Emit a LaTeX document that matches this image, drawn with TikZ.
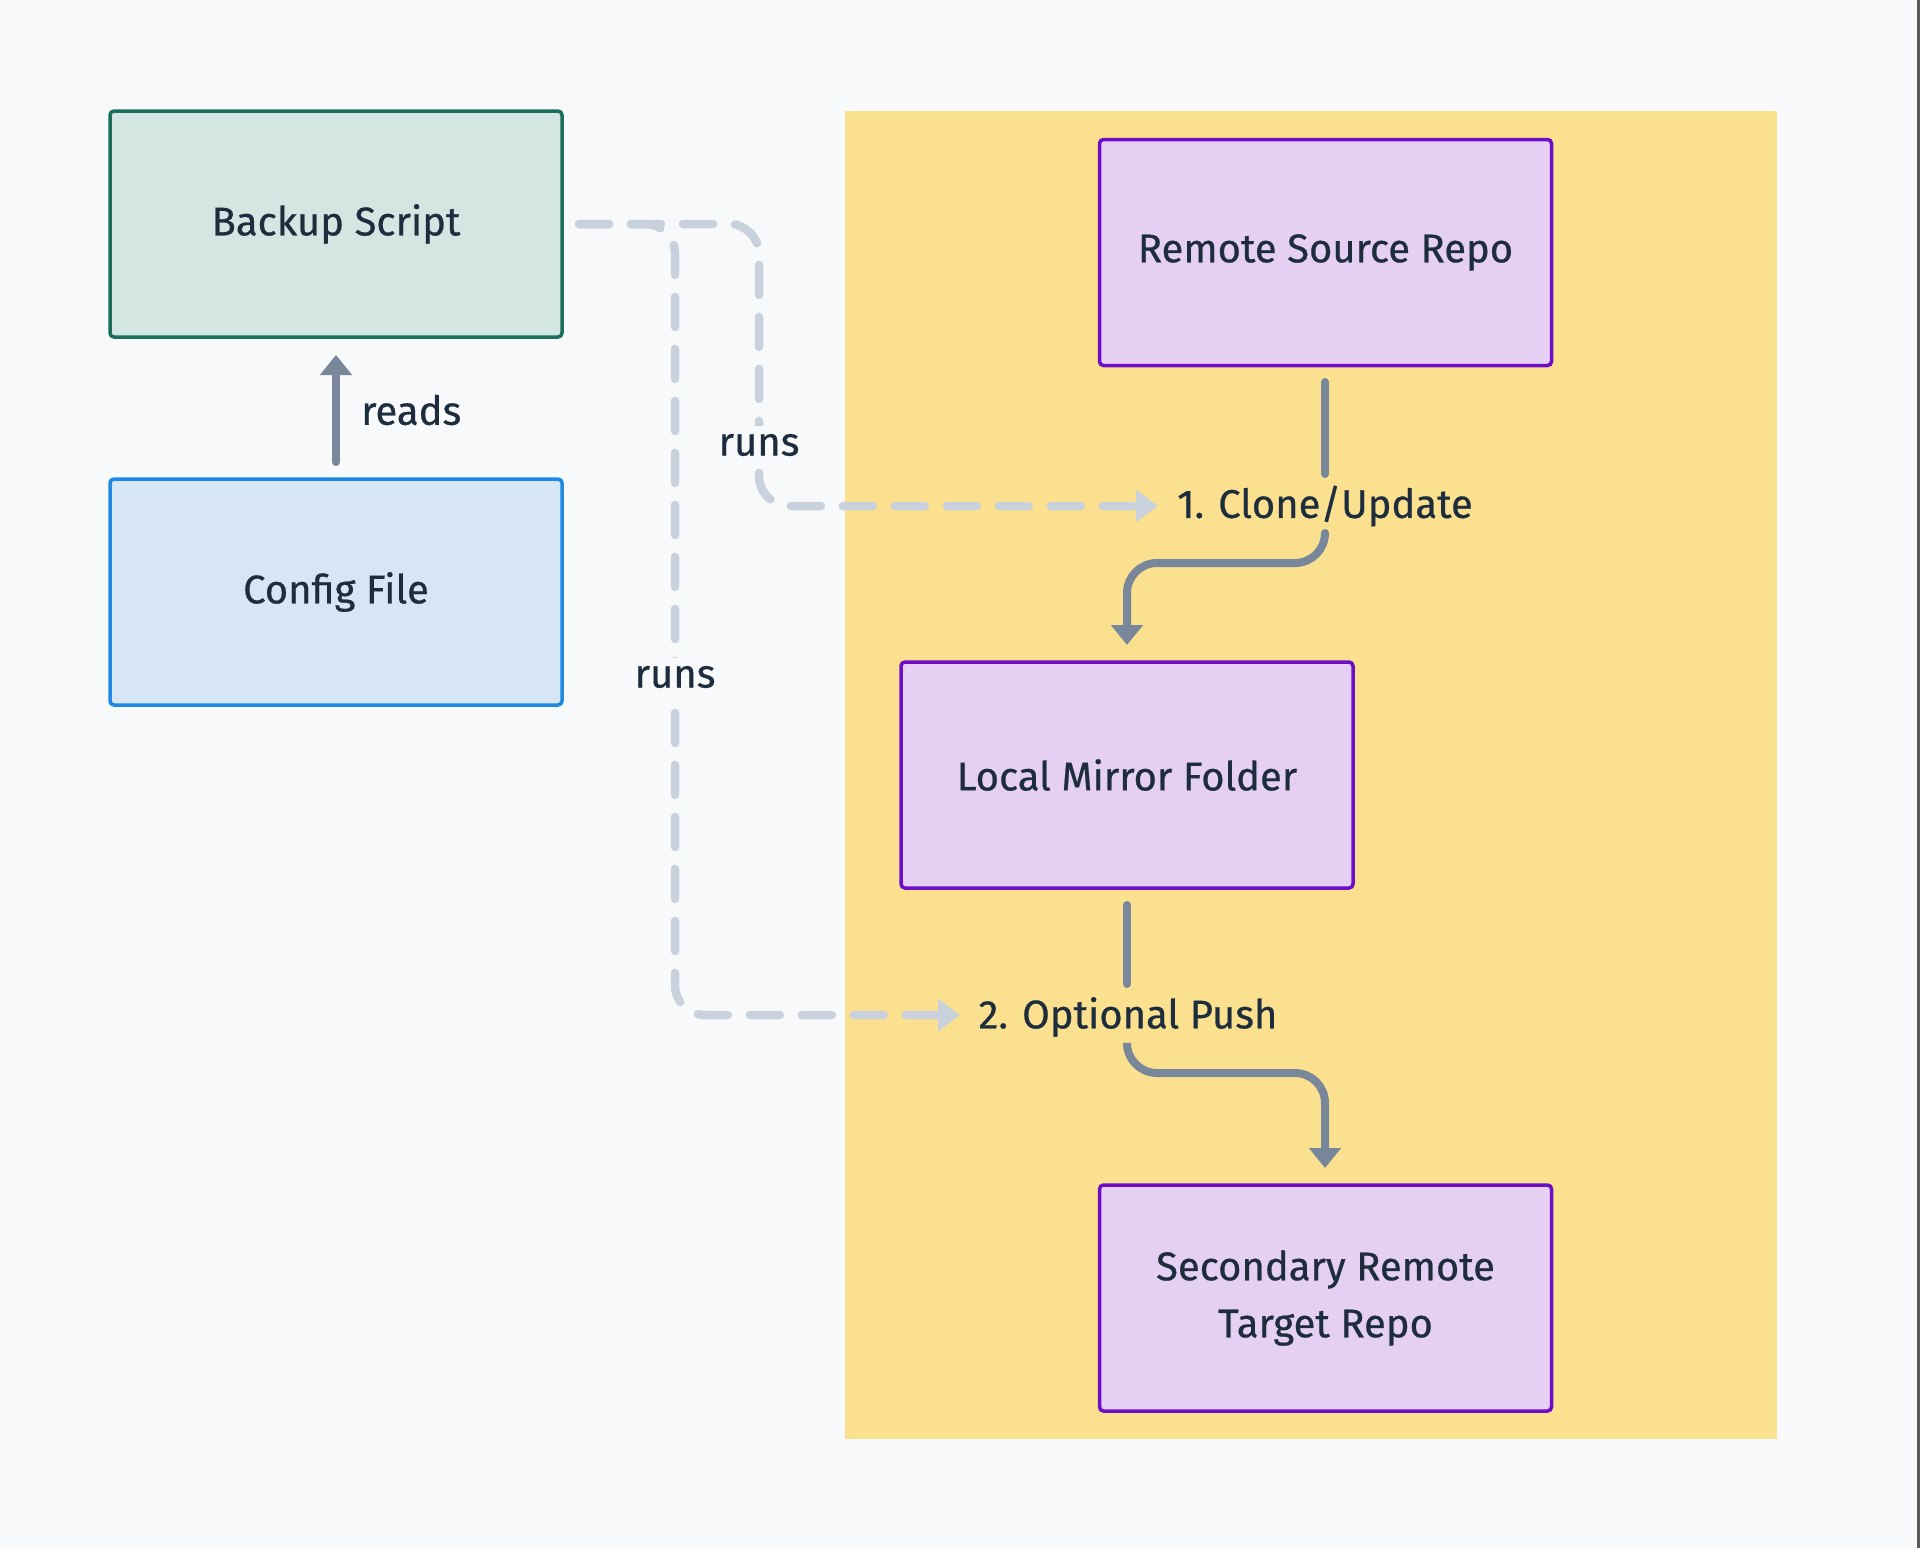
\documentclass[tikz,border=0pt]{standalone}
\usepackage{fontspec}
\setmainfont{Fira Sans}[FakeBold=0.6]
\usetikzlibrary{arrows.meta}
\definecolor{bgc}{HTML}{F7F9FB}
\definecolor{yel}{HTML}{FBE18F}
\definecolor{tealb}{HTML}{1B6E5E}
\definecolor{tealf}{HTML}{D3E6E2}
\definecolor{blueb}{HTML}{1E88E5}
\definecolor{bluef}{HTML}{D6E6F5}
\definecolor{purb}{HTML}{6E0DC8}
\definecolor{purf}{HTML}{E5CFF3}
\definecolor{grayl}{HTML}{78889A}
\definecolor{dashc}{HTML}{C8D1DC}
\definecolor{txt}{HTML}{1E2D3D}
\tikzset{
  box/.style={draw, line width=3.5pt, rounded corners=4pt, minimum width=452pt, minimum height=226pt, align=center, inner sep=0pt, text=txt, font=\fontsize{40}{57}\selectfont},
  tealbox/.style={box, draw=tealb, fill=tealf},
  bluebox/.style={box, draw=blueb, fill=bluef},
  purbox/.style={box, draw=purb, fill=purf},
  lbl/.style={text=txt, font=\fontsize{40}{48}\selectfont, inner sep=0pt},
  solidarrow/.style={draw=grayl, line width=8pt, line cap=round, rounded corners=30pt},
  dasharrow/.style={draw=dashc, line width=8.5pt, line cap=round, rounded corners=30pt, dash pattern=on 30pt off 22pt},
  gtip/.style={-{Triangle[length=20pt,width=31pt]}},
  dtip/.style={-{Triangle[length=22pt,width=31pt]}},
}
\begin{document}
\begin{tikzpicture}[x=1pt,y=-1pt]
\useasboundingbox (0,0) rectangle (1920,1548);
\fill[bgc] (0,0) rectangle (1920,1548);
\fill[black!65] (1917,0) rectangle (1920,1548);
\fill[yel] (845,111) rectangle (1777,1439);

\node[tealbox] (backup) at (336,224) {Backup Script};
\node[bluebox] (config) at (336,592) {Config File};
\node[purbox] (remote) at (1325.5,252.5) {Remote Source Repo};
\node[purbox] (local) at (1127,775) {Local Mirror Folder};
\node[purbox] (secondary) at (1325.5,1298) {Secondary Remote\\Target Repo};

\node[lbl] (clone) at (1325,506) {1. Clone/Update};
\node[lbl] (push) at (1128,1017) {2. Optional Push};

% reads
\coordinate (rs) at (336,462);
\coordinate (re) at (336,355);
\draw[solidarrow, gtip] (rs) -- (re);
\node[lbl, anchor=west] (readslbl) at (361,410) {reads};

% remote -> clone -> local
\coordinate (r1) at (1325,382);
\coordinate (r2) at (1325,474);
\draw[solidarrow] (r1) -- (r2);
\coordinate (c1) at (1325,533);
\coordinate (c2) at (1127,563);
\coordinate (c3) at (1127,645);
\draw[solidarrow, gtip] (c1) |- (c2) -- (c3);

% local -> push -> secondary
\coordinate (l1) at (1127,905);
\coordinate (l2) at (1127,984);
\draw[solidarrow] (l1) -- (l2);
\coordinate (p1) at (1127,1045);
\coordinate (p2) at (1325,1073);
\coordinate (p3) at (1325,1168);
\draw[solidarrow, gtip] (p1) |- (p2) -- (p3);

% runs dashed
\coordinate (d0) at (579,224);
\coordinate (d1) at (759,224);
\coordinate (d2) at (759,506);
\coordinate (d3) at (1158,506);
\draw[dasharrow, dtip] (d0) -- (d1) -- (d2) -- (d3);
\coordinate (e1) at (675,224);
\coordinate (e2) at (675,1015);
\coordinate (e3) at (960,1015);
\draw[dasharrow, dtip] (d0) -- (e1) -- (e2) -- (e3);

\node[lbl, fill=bgc, inner sep=8pt] (runs1) at (759,445) {runs};
\node[lbl, fill=bgc, inner sep=8pt] (runs2) at (675,677) {runs};
\end{tikzpicture}
\end{document}
